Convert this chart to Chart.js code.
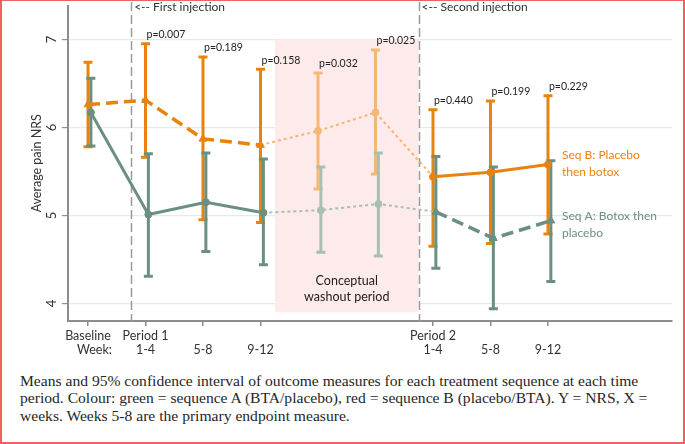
<!DOCTYPE html>
<html>
<head>
<meta charset="utf-8">
<script src="https://cdn.jsdelivr.net/npm/chart.js@4.4.0/dist/chart.umd.min.js"></script>
<style>
  body { margin: 0; background: #fff; }
  #wrap { position: relative; width: 685px; height: 444px; overflow: hidden; }
  #box { position: absolute; left: 0; top: 0; width: 685px; height: 370px; }
  #caption {
    position: absolute; left: 20px; top: 372px; width: 662px;
    font-family: "Liberation Serif", "Times New Roman", serif;
    font-size: 15.6px; line-height: 17.3px; color: #262626;
  }
  #frame {
    position: absolute; left: 0; top: 0; width: 685px; height: 444px;
    box-sizing: border-box; border: 2px solid #f06262; border-top-width: 1px;
    pointer-events: none;
  }
</style>
</head>
<body>
<div id="wrap">
  <div id="box"><canvas id="chart" width="685" height="370"></canvas></div>
  <div id="caption">Means and 95% confidence interval of outcome measures for each treatment sequence at each time period. Colour: green = sequence A (BTA/placebo), red = sequence B (placebo/BTA). Y = NRS, X = weeks. Weeks 5-8 are the primary endpoint measure.</div>
  <div id="frame"></div>
</div>
<script>
// time points: 0 baseline, 1-3 period 1, 4-5 washout, 6-8 period 2
xPos = [0, 1, 2, 3, 4, 5, 6, 7, 8];

// Seq B: placebo then botox (orange)
seqBMean = [6.26, 6.31, 5.87, 5.8, 5.96, 6.17, 5.44, 5.49, 5.58];
seqBLow = [5.78, 5.66, 4.95, 4.92, 5.3, 5.47, 4.65, 4.68, 4.79];
seqBHigh = [6.74, 6.95, 6.8, 6.66, 6.62, 6.88, 6.2, 6.3, 6.36];

// Seq A: botox then placebo (green)
seqAMean = [6.17, 5.01, 5.15, 5.03, 5.06, 5.13, 5.04, 4.74, 4.94];
seqALow = [5.79, 4.31, 4.59, 4.44, 4.58, 4.54, 4.4, 3.94, 4.25];
seqAHigh = [6.56, 5.7, 5.71, 5.64, 5.55, 5.71, 5.67, 5.55, 5.62];

pValues = ["", "p=0.007", "p=0.189", "p=0.158", "p=0.032", "p=0.025", "p=0.440", "p=0.199", "p=0.229"];

xTicks = [0, 1, 2, 3, 6, 7, 8];
xTickLabels = {
  0: ["Baseline", "    Week:"],
  1: ["Period 1", "1-4"],
  2: ["", "5-8"],
  3: ["", "9-12"],
  6: ["Period 2", "1-4"],
  7: ["", "5-8"],
  8: ["", "9-12"],
};
yTicks = [4, 5, 6, 7];

const ORANGE = "#e8840e";
const ORANGE_L = "#f5b874";
const GREEN = "#6b8f80";
const GREEN_L = "#a9bfb5";
const GREEN_SHIFT = 0.05;
const washout = [4, 5];

function pts(mean, from, to, shift) {
  return xPos.slice(from, to + 1).map((x, i) => ({ x: x + shift, y: mean[from + i] }));
}

function errBar(ctx, x, y1, y2, color) {
  ctx.strokeStyle = color;
  ctx.lineWidth = 3;
  ctx.lineCap = "butt";
  ctx.beginPath();
  ctx.moveTo(x, y1);
  ctx.lineTo(x, y2);
  ctx.moveTo(x - 4.5, y1);
  ctx.lineTo(x + 4.5, y1);
  ctx.moveTo(x - 4.5, y2);
  ctx.lineTo(x + 4.5, y2);
  ctx.stroke();
}

const decor = {
  id: "decor",
  beforeDatasetsDraw: (chart) => {
    const { ctx } = chart;
    const xs = chart.scales.x;
    const ys = chart.scales.y;
    ctx.save();
    // washout shading
    ctx.fillStyle = "#fdeaea";
    const l = xs.getPixelForValue(3.25);
    const r = xs.getPixelForValue(5.75);
    const t = ys.getPixelForValue(7);
    const b = ys.getPixelForValue(3.9);
    ctx.fillRect(l, t, r - l, b - t);
    // injection lines
    ctx.strokeStyle = "#9a9a9a";
    ctx.lineWidth = 1.5;
    ctx.setLineDash([9, 4]);
    [0.75, 5.75].forEach((v) => {
      const x = Math.round(xs.getPixelForValue(v)) + 0.5;
      ctx.beginPath();
      ctx.moveTo(x, 2);
      ctx.lineTo(x, chart.chartArea.bottom);
      ctx.stroke();
    });
    ctx.setLineDash([]);
    // confidence intervals
    xPos.forEach((v, i) => {
      const w = washout.includes(i);
      errBar(ctx, xs.getPixelForValue(v), ys.getPixelForValue(seqBLow[i]), ys.getPixelForValue(seqBHigh[i]), w ? ORANGE_L : ORANGE);
    });
    xPos.forEach((v, i) => {
      const w = washout.includes(i);
      errBar(ctx, xs.getPixelForValue(v + GREEN_SHIFT), ys.getPixelForValue(seqALow[i]), ys.getPixelForValue(seqAHigh[i]), w ? GREEN_L : GREEN);
    });
    ctx.restore();
  },
  afterDraw: (chart) => {
    const { ctx } = chart;
    const xs = chart.scales.x;
    const ys = chart.scales.y;
    ctx.save();
    ctx.textBaseline = "middle";
    // y tick labels and title, rotated
    ctx.fillStyle = "#333";
    ctx.font = "13px Lato";
    ctx.textAlign = "center";
    yTicks.forEach((v) => {
      ctx.save();
      ctx.translate(52, ys.getPixelForValue(v));
      ctx.rotate(-Math.PI / 2);
      ctx.fillText(String(v), 0, 0);
      ctx.restore();
    });
    ctx.save();
    ctx.translate(37, (chart.chartArea.top + chart.chartArea.bottom) / 2);
    ctx.rotate(-Math.PI / 2);
    ctx.font = "12.5px Lato";
    ctx.fillText("Average pain NRS", 0, 0);
    ctx.restore();
    // p-values
    ctx.font = "10.5px Lato";
    ctx.textAlign = "left";
    ctx.fillStyle = "#222";
    xPos.forEach((v, i) => {
      if (pValues[i]) ctx.fillText(pValues[i], xs.getPixelForValue(v) + 1, ys.getPixelForValue(seqBHigh[i]) - 9);
    });
    // injection notes
    ctx.font = "12px Lato";
    ctx.fillStyle = "#333";
    ctx.fillText("<-- First injection", xs.getPixelForValue(0.75) + 3, 7);
    ctx.fillText("<-- Second injection", xs.getPixelForValue(5.75) + 3, 7);
    // washout note
    ctx.font = "12.5px Lato";
    ctx.textAlign = "center";
    ctx.fillStyle = "#222";
    ctx.fillText("Conceptual", xs.getPixelForValue(4.5), 281);
    ctx.fillText("washout period", xs.getPixelForValue(4.5), 297);
    // series labels
    ctx.font = "12px Lato";
    ctx.textAlign = "left";
    const lx = xs.getPixelForValue(8) + 14;
    ctx.fillStyle = ORANGE;
    ctx.fillText("Seq B: Placebo", lx, 155);
    ctx.fillText("then botox", lx, 172);
    ctx.fillStyle = GREEN;
    ctx.fillText("Seq A: Botox then", lx, 216);
    ctx.fillText("placebo", lx, 233);
    ctx.restore();
  },
};

function lineSet(data, color, width, dash, style, radius) {
  return {
    data: data,
    borderColor: color,
    backgroundColor: color,
    borderWidth: width,
    borderDash: dash,
    pointStyle: style,
    pointRadius: radius,
    pointBackgroundColor: color,
    pointBorderColor: color,
    pointBorderWidth: 1,
    tension: 0,
  };
}

function onload() {
  Chart.defaults.font.family = "Lato";
  Chart.defaults.color = "#333";
  new Chart(document.getElementById("chart"), {
    type: "line",
    data: {
      datasets: [
        lineSet(pts(seqBMean, 0, 3, 0), ORANGE, 3.5, [12, 6], "triangle", 4.5),
        lineSet(pts(seqBMean, 6, 8, 0), ORANGE, 3, [], "circle", 3.5),
        lineSet(pts(seqBMean, 3, 6, 0), ORANGE_L, 2, [3, 3], "circle", [0, 3.5, 3.5, 0]),
        lineSet(pts(seqAMean, 0, 3, GREEN_SHIFT), GREEN, 3, [], "circle", 3.5),
        lineSet(pts(seqAMean, 6, 8, GREEN_SHIFT), GREEN, 3.5, [12, 6], "triangle", 4.5),
        lineSet(pts(seqAMean, 3, 6, GREEN_SHIFT), GREEN_L, 2, [3, 3], "circle", [0, 3.5, 3.5, 0]),
      ],
    },
    options: {
      responsive: false,
      animation: false,
      layout: { padding: { top: 5, right: 13, left: 0, bottom: 0 } },
      plugins: { legend: { display: false }, tooltip: { enabled: false } },
      scales: {
        x: {
          type: "linear",
          min: -0.348,
          max: 10.157,
          afterBuildTicks: (s) => {
            s.ticks = xTicks.map((v) => ({ value: v }));
          },
          afterFit: (s) => {
            s.height = 49;
          },
          ticks: {
            autoSkip: false,
            maxRotation: 0,
            padding: 3,
            color: "#333",
            font: { size: 12.5, lineHeight: 1.12 },
            callback: (v) => xTickLabels[v] || "",
          },
          grid: { drawOnChartArea: false, drawTicks: true, tickLength: 5, tickColor: "#8c8c8c", lineWidth: 1.5 },
          border: { color: "#8c8c8c", width: 2 },
        },
        y: {
          type: "linear",
          min: 3.8,
          max: 7.386,
          afterBuildTicks: (s) => {
            s.ticks = yTicks.map((v) => ({ value: v }));
          },
          afterFit: (s) => {
            s.width = 68;
          },
          ticks: { display: false },
          grid: { color: "#e2ecef", lineWidth: 1.2, drawTicks: true, tickLength: 6, tickColor: "#8c8c8c" },
          border: { color: "#8c8c8c", width: 2 },
        },
      },
    },
    plugins: [decor],
  });
}
onload();
</script>
</body>
</html>
